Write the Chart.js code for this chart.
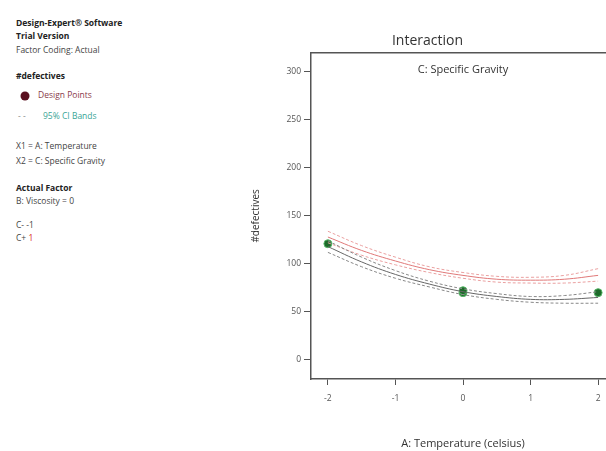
<!DOCTYPE html>
<html>
<head>
<meta charset="utf-8">
<script src="https://cdn.jsdelivr.net/npm/chart.js@4.4.1/dist/chart.umd.min.js"></script>
<style>
  body { margin: 0; width: 606px; height: 451px; overflow: hidden; background: #fff; position: relative; font-family: "Open Sans", "Noto Sans", sans-serif; }
  #side { position: absolute; left: 0; top: 0; width: 230px; font-size: 8.5px; color: #444; }
  #side div { position: absolute; left: 16px; white-space: nowrap; line-height: 12px; }
  #side .b { font-weight: bold; color: #222; }
  #chartBox { position: absolute; left: 240px; top: 0; }
</style>
</head>
<body>
<div id="side">
  <div class="b" style="top:17px">Design-Expert® Software</div>
  <div class="b" style="top:30px">Trial Version</div>
  <div style="top:44px">Factor Coding: Actual</div>
  <div class="b" style="top:70px">#defectives</div>
  <div style="top:89px; left:38px; color:#8a3a4a">Design Points</div>
  <div style="top:110px; left:18px; color:#888">- -</div>
  <div style="top:110px; left:43px; color:#3aa596">95% CI Bands</div>
  <div style="top:140px">X1 = A: Temperature</div>
  <div style="top:155px">X2 = C: Specific Gravity</div>
  <div class="b" style="top:182px">Actual Factor</div>
  <div style="top:195px">B: Viscosity = 0</div>
  <div style="top:219px">C- -1</div>
  <div style="top:232px">C+ <span style="color:#d82020">1</span></div>
</div>
<svg style="position:absolute;left:19px;top:91px" width="12" height="12"><circle cx="6" cy="5" r="4.5" fill="#5a1020"/></svg>
<div id="chartBox"><canvas id="chart" width="380" height="451"></canvas></div>
<script>
const xVals = [-2, -1.5, -1, -0.5, 0, 0.5, 1, 1.5, 2];
const lowMean = [118, 102, 89, 79, 71, 66, 63, 63, 65];
const lowUpper = [124, 107, 93, 82, 74, 69, 66, 67, 71];
const lowLower = [112, 97, 85, 76, 68, 63, 60, 59, 59];
const highMean = [128, 114, 103, 94, 88, 84, 83, 84, 88];
const highUpper = [134, 119, 107, 97, 91, 87, 86, 88, 95];
const highLower = [122, 109, 99, 91, 85, 81, 80, 80, 82];
const designX = [-2, 0, 0, 2];
const designY = [121, 70, 72, 70];
const xTicks = [-2, -1, 0, 1, 2];
const yTicks = [0, 50, 100, 150, 200, 250, 300];

const pts = ys => ys.map((y, i) => ({ x: xVals[i], y: y }));

function curve(label, ys, color, dashed) {
  return {
    type: 'line', label: label, data: pts(ys),
    borderColor: color, borderWidth: 1, borderDash: dashed ? [3, 2] : [],
    pointRadius: 0, tension: 0.4, fill: false
  };
}

const insideLabel = {
  id: 'insideLabel',
  afterDraw(chart) {
    const a = chart.chartArea, c = chart.ctx;
    c.save();
    c.font = '11px "Open Sans", sans-serif';
    c.fillStyle = '#333';
    c.textAlign = 'center';
    c.textBaseline = 'middle';
    c.fillText('C: Specific Gravity', (a.left + a.right) / 2, a.top + 17);
    c.restore();
  }
};

new Chart(document.getElementById('chart').getContext('2d'), {
  type: 'scatter',
  data: {
    datasets: [
      curve('C- mean', lowMean, '#666666', false),
      curve('C- upper', lowUpper, '#888888', true),
      curve('C- lower', lowLower, '#888888', true),
      curve('C+ mean', highMean, '#e07878', false),
      curve('C+ upper', highUpper, '#eaa0a0', true),
      curve('C+ lower', highLower, '#eaa0a0', true),
      {
        label: 'Design Points',
        data: designX.map((x, i) => ({ x: x, y: designY[i] })),
        backgroundColor: '#1d6b2a', borderColor: '#59b86a', borderWidth: 1,
        pointRadius: 4
      }
    ]
  },
  options: {
    responsive: false,
    devicePixelRatio: 1,
    animation: false,
    layout: { padding: { left: 0, right: 5, top: 0, bottom: 0 } },
    plugins: {
      legend: { display: false },
      tooltip: { enabled: false },
      title: {
        display: true, text: 'Interaction', color: '#333',
        font: { family: '"Open Sans", sans-serif', size: 14, weight: 'normal' },
        padding: { top: 33, bottom: 3 }
      }
    },
    scales: {
      x: {
        type: 'linear', min: -2.25, max: 2.25,
        afterBuildTicks: s => { s.ticks = xTicks.map(v => ({ value: v })); },
        afterFit: s => { s.height = 72; },
        grid: { drawOnChartArea: false, color: '#555', tickLength: 6 },
        border: { color: '#555', width: 1.5 },
        ticks: { color: '#555', padding: 8, font: { family: '"Open Sans", sans-serif', size: 8.5 } },
        title: {
          display: true, text: 'A: Temperature (celsius)', color: '#333',
          font: { family: '"Open Sans", sans-serif', size: 11 },
          padding: { top: 0, bottom: 1 }
        }
      },
      x2: {
        type: 'linear', position: 'top', min: -2.25, max: 2.25,
        grid: { drawOnChartArea: false, drawTicks: false },
        border: { color: '#555', width: 1.5 },
        ticks: { display: false }
      },
      y: {
        type: 'linear', min: -20, max: 320,
        afterBuildTicks: s => { s.ticks = yTicks.map(v => ({ value: v })); },
        afterFit: s => { s.width = 71; },
        grid: { drawOnChartArea: false, color: '#555', tickLength: 7 },
        border: { color: '#555', width: 1.5 },
        ticks: { color: '#555', padding: 3, font: { family: '"Open Sans", sans-serif', size: 8.5 } },
        title: {
          display: true, text: '#defectives', color: '#333',
          font: { family: '"Open Sans", sans-serif', size: 10 },
          padding: { top: 10, bottom: 0 }
        }
      }
    }
  },
  plugins: [insideLabel]
});
</script>
</body>
</html>
